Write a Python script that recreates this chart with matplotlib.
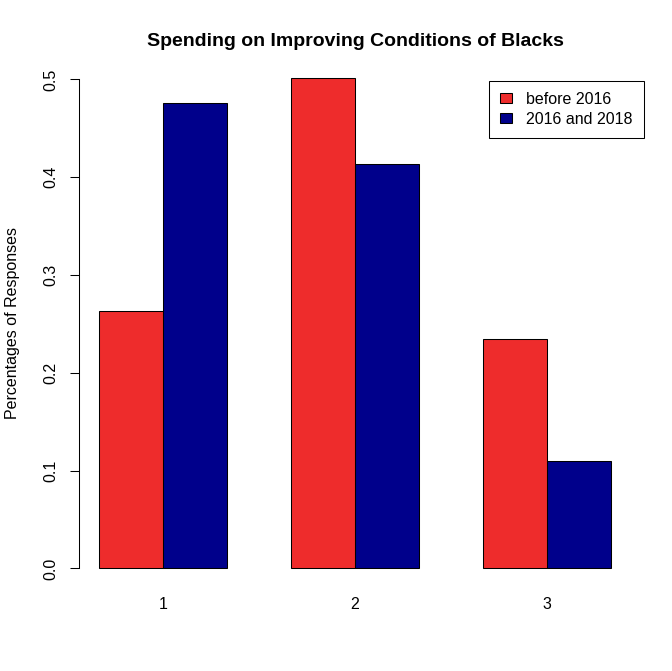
import numpy as np
import matplotlib
matplotlib.use("Agg")
import matplotlib.pyplot as plt

# ---- data ----
categories = ["1", "2", "3"]
series_names = ["before 2016", "2016 and 2018"]
before_2016 = [0.2635, 0.5016, 0.2344]
y2016_2018 = [0.4757, 0.4140, 0.1102]
y_ticks = [0.0, 0.1, 0.2, 0.3, 0.4, 0.5]
y_tick_labels = ["0.0", "0.1", "0.2", "0.3", "0.4", "0.5"]
title = "Spending on Improving Conditions of Blacks"
ylabel = "Percentages of Responses"

colors = ["#EE2C2C", "#00008B"]

plt.rcParams['font.family'] = ['Liberation Sans', 'DejaVu Sans']

FS = 11.5
W, H = 672, 671
fig = plt.figure(figsize=(W / 100, H / 100), dpi=100)
left, right = 78.5 / W, 631.5 / W
bottom, top = 1 - 588 / H, 1 - 58.3 / H
ax = fig.add_axes([left, bottom, right - left, top - bottom])

idx = np.arange(len(categories))
centers = idx * 3 + 2  # R barplot beside layout (space = c(0,1))
ax.bar(centers - 0.5, before_2016, width=1.0, color=colors[0], edgecolor="black",
       linewidth=0.75, label=series_names[0])
ax.bar(centers + 0.5, y2016_2018, width=1.0, color=colors[1], edgecolor="black",
       linewidth=0.75, label=series_names[1])

ymax = max(max(before_2016), max(y2016_2018))
ax.set_xlim(0.68, 9.32)
ax.set_ylim(-0.04 * ymax, ymax * 1.04)

for s in ["top", "right", "bottom"]:
    ax.spines[s].set_visible(False)
ax.spines["left"].set_bounds(y_ticks[0], y_ticks[-1])
ax.spines["left"].set_linewidth(0.75)

ax.set_yticks(y_ticks)
ax.set_yticklabels(y_tick_labels, rotation=90, va="center")
ax.tick_params(axis="y", length=6.2, width=0.75, pad=8, labelsize=FS)
ax.set_xticks(centers)
ax.set_xticklabels(categories)
ax.tick_params(axis="x", length=0, pad=6.5, labelsize=FS)

fig.text(12.5 / W, 1 - 323 / H, ylabel, rotation=90, ha="center", va="center",
         fontsize=FS)
fig.text(355 / W, 1 - 42 / H, title, ha="center", va="center",
         fontsize=14, fontweight="bold")

leg = ax.legend(loc="upper left", bbox_to_anchor=(489.3 / W, 1 - 80.7 / H),
                bbox_transform=fig.transFigure, borderaxespad=0,
                fontsize=FS, frameon=True, fancybox=False,
                handlelength=0.75, handleheight=0.58, handletextpad=0.85,
                borderpad=0.7, labelspacing=0.3)
leg.get_frame().set_edgecolor("black")
leg.get_frame().set_linewidth(0.75)
leg.get_frame().set_alpha(1)

fig.savefig("out.png", dpi=100)
